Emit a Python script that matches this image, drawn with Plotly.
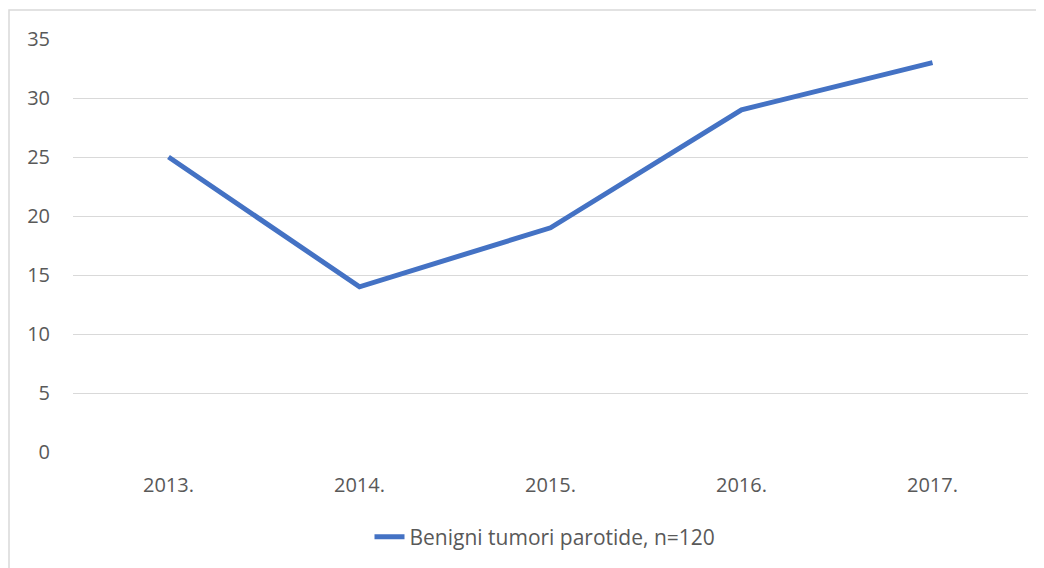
import plotly.graph_objects as go

years = ["2013.", "2014.", "2015.", "2016.", "2017."]
values = [25, 14, 19, 29, 33]
series_name = "Benigni tumori parotide, n=120"
y_ticks = [0, 5, 10, 15, 20, 25, 30, 35]

# page body has an 8px margin, so the figure is placed at (8, 8)
W, H = 1036, 560
L, R, T, B = 65, 16, 31, 115
pw = W - L - R
ph = H - T - B

fig = go.Figure()
fig.add_trace(go.Scatter(
    x=years, y=values, mode="lines", name=series_name,
    line=dict(color="#4472c4", width=5),
))

font_family = "Open Sans, Liberation Sans, sans-serif"
fig.update_layout(
    width=W, height=H,
    margin=dict(l=L, r=R, t=T, b=B),
    paper_bgcolor="white", plot_bgcolor="white",
    font=dict(family=font_family, size=20, color="#595959"),
    showlegend=True,
    legend=dict(orientation="h", x=(537 - L) / pw, xanchor="center",
                y=(445 - 529) / ph, yanchor="middle",
                font=dict(size=21, color="#595959")),
    xaxis=dict(range=[-0.5, 4.5], showgrid=False, zeroline=False,
               showline=False, ticks="", ticklabelstandoff=19),
    yaxis=dict(range=[0, 35], tickvals=y_ticks, showgrid=True,
               gridcolor="#d9d9d9", gridwidth=1.3, zeroline=False,
               showline=False, ticks="", ticklabelstandoff=22),
    shapes=[dict(type="rect", xref="paper", yref="paper",
                 x0=(1 - L) / pw, x1=(W + 20 - L) / pw,
                 y0=(445 - H - 30) / ph, y1=1 + (T - 2) / ph,
                 line=dict(color="#d9d9d9", width=1.5), layer="below")],
)

fig.write_html("out.html")
